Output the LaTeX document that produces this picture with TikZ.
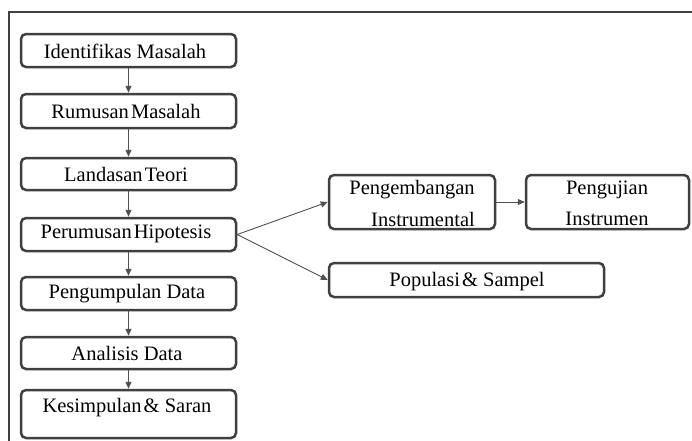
\documentclass[tikz,border=0pt]{standalone}
\usepackage{fontspec}
\setmainfont{Liberation Serif}
\usetikzlibrary{arrows.meta}
\definecolor{frame}{HTML}{404040}
\definecolor{arr}{HTML}{505050}
\tikzset{
  stepbox/.style={draw=frame, line width=2.5pt, rounded corners=5pt, fill=white, inner sep=0pt},
  lbl/.style={inner sep=0pt, font=\fontsize{20.5}{22}\selectfont, text=black},
  conn/.style={draw=arr, line width=0.9pt, -{Triangle[length=7pt,width=6pt]}}
}
\begin{document}
\begin{tikzpicture}[x=1pt,y=-1pt]
\useasboundingbox (0,0) rectangle (692,440);
\fill[white] (0,0) rectangle (692,440);
% outer frame
\draw[frame, line width=2.8pt] (9,445) -- (9,12) -- (700,12);
% left column boxes
\node[stepbox, minimum width=215pt, minimum height=33pt] (b1) at (128.5,50.5) {};
\node[stepbox, minimum width=215pt, minimum height=34pt] (b2) at (128.5,111) {};
\node[stepbox, minimum width=215pt, minimum height=32pt] (b3) at (128.5,174) {};
\node[stepbox, minimum width=215pt, minimum height=33pt] (b4) at (128.5,234.5) {};
\node[stepbox, minimum width=215pt, minimum height=33pt] (b5) at (128.5,293.5) {};
\node[stepbox, minimum width=215pt, minimum height=32pt] (b6) at (128.5,353) {};
\node[stepbox, minimum width=215pt, minimum height=48pt] (b7) at (128.5,414) {};
\node[lbl] (t1) at (125,51) {Identifikas Masalah};
\node[lbl] (t2) at (126,111) {Rumusan\hspace{-3pt} Masalah};
\node[lbl] (t3) at (126,174) {Landasan\hspace{-3pt} Teori};
\node[lbl] (t4) at (126,234) {Perumusan\hspace{-3pt} Hipotesis};
\node[lbl] (t5) at (127,294) {Pengumpulan Data};
\node[lbl] (t6) at (127,353) {Analisis Data};
\node[lbl] (t7) at (127,408) {Kesimpulan\hspace{-3pt} \&\ Saran};
% right boxes
\node[stepbox, minimum width=166pt, minimum height=54pt] (r1) at (412,202) {};
\node[stepbox, minimum width=163pt, minimum height=54pt] (r2) at (607.5,202) {};
\node[stepbox, minimum width=275pt, minimum height=34pt] (r3) at (466.5,280) {};
\node[lbl] (t8a) at (412,190) {Pengembangan};
\node[lbl] (t8b) at (423,219) {Instrumental};
\node[lbl] (t9a) at (607,190) {Pengujian};
\node[lbl] (t9b) at (607,219) {Instrumen};
\node[lbl] (t10) at (467,282) {Populasi\hspace{-3pt} \&\ Sampel};
% connectors
\draw[conn] (b1) -- (b2);
\draw[conn] (b2) -- (b3);
\draw[conn] (b3) -- (b4);
\draw[conn] (b4) -- (b5);
\draw[conn] (b5) -- (b6);
\draw[conn] (b6) -- (b7);
\draw[conn] (b4.east) -- (r1.west);
\draw[conn] (b4.east) -- (r3.west);
\draw[conn] (r1) -- (r2);
\end{tikzpicture}
\end{document}
